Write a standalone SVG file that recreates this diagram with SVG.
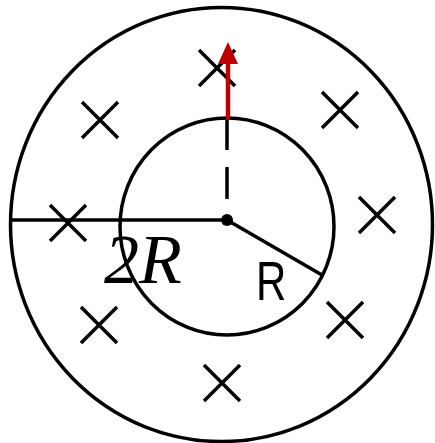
<svg xmlns="http://www.w3.org/2000/svg" width="435" height="443" viewBox="0 0 435 443">
<style>
.ln{stroke:#000;stroke-width:3.5;fill:none}
.x{stroke:#000;stroke-width:3.5;fill:none}
</style>
<defs>
<path id="cross" d="M-18,-18L18,18M18,-18L-18,18"/>
</defs>
<rect width="435" height="443" fill="#fff"/>
<g id="outer"><ellipse class="ln" cx="221.5" cy="224.5" rx="211" ry="217"/></g>
<g id="inner"><ellipse class="ln" cx="227" cy="226.5" rx="107" ry="108.5"/></g>
<g id="crosses">
<use href="#cross" class="x" x="217" y="68"/>
<use href="#cross" class="x" x="100" y="120"/>
<use href="#cross" class="x" x="340" y="110"/>
<use href="#cross" class="x" x="377" y="215"/>
<use href="#cross" class="x" x="68" y="223"/>
<use href="#cross" class="x" x="99" y="325"/>
<use href="#cross" class="x" x="345" y="320"/>
<use href="#cross" class="x" x="222" y="383"/>
</g>
<g id="connectors">
<line class="ln" x1="10" y1="220" x2="227" y2="220"/>
<line class="ln" x1="227" y1="220" x2="322" y2="275"/>
<line class="ln" x1="227" y1="118" x2="227" y2="220" stroke-dasharray="32,17"/>
<circle cx="227" cy="220" r="6" fill="#000"/>
<line x1="228" y1="120" x2="228" y2="60" stroke="#c00000" stroke-width="4.5"/>
<polygon points="228,42 238,64 218,64" fill="#c00000"/>
</g>
<g id="labels">
<text x="104" y="283" font-family="Liberation Serif" font-style="italic" font-size="70">2R</text>
<text transform="translate(256,300) scale(0.75,1)" font-family="Liberation Sans" font-size="56">R</text>
</g>
</svg>
